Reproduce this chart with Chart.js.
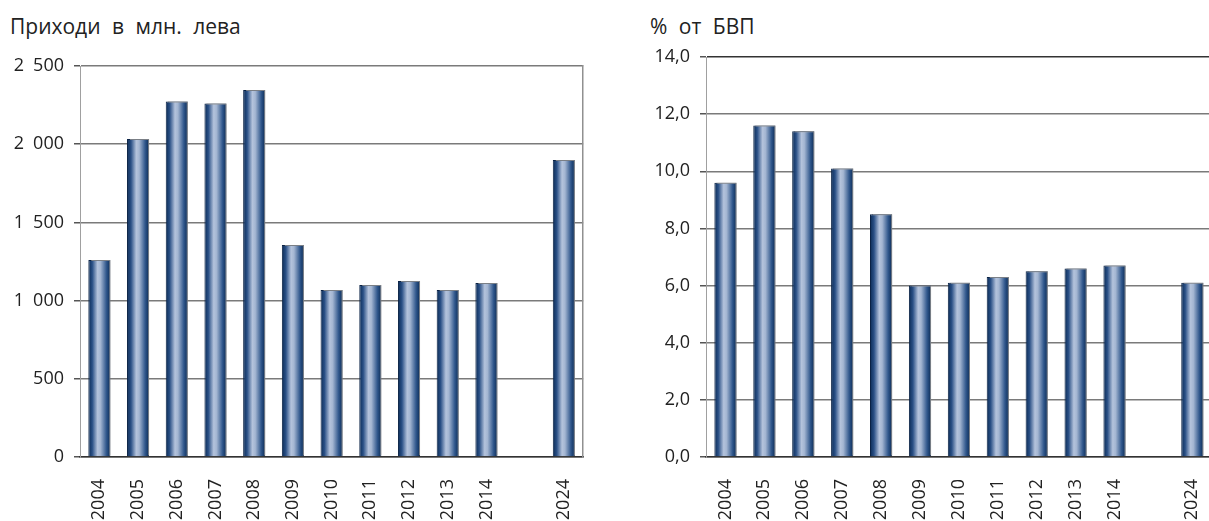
<!DOCTYPE html>
<html>
<head>
<meta charset="utf-8">
<script src="https://cdn.jsdelivr.net/npm/chart.js@4"></script>
<style>
  html, body { margin: 0; padding: 0; background: #fff; overflow: hidden; width: 1209px; height: 521px; }
  .title { position: absolute; top: 12px; font-family: "Open Sans", sans-serif; font-size: 21px; color: #222; word-spacing: 6px; }
  .box { position: absolute; top: 0; height: 521px; }
</style>
</head>
<body>
<div class="title" style="left: 10px;">Приходи в млн. лева</div>
<div class="title" style="left: 650px;">% от БВП</div>
<div class="box" style="left: 0; width: 600px;"><canvas id="leftChart"></canvas></div>
<div class="box" style="left: 600px; width: 628px;"><canvas id="rightChart"></canvas></div>
<script>
// Categories (blank slot between 2014 and 2024)
const years = ['2004', '2005', '2006', '2007', '2008', '2009', '2010', '2011', '2012', '2013', '2014', '', '2024'];

// Revenues, million leva
const revenues = [1260, 2033, 2273, 2260, 2347, 1355, 1068, 1100, 1125, 1068, 1112, null, 1899];

// Share of GDP, %
const gdpShare = [9.6, 11.6, 11.4, 10.1, 8.5, 6.0, 6.1, 6.3, 6.5, 6.6, 6.7, null, 6.1];

// Tick labels (en space as thousands separator, like the original)
const leftTicks = ['0', '500', '1\u2002000', '1\u2002500', '2\u2002000', '2\u2002500'];
const rightTicks = ['0,0', '2,0', '4,0', '6,0', '8,0', '10,0', '12,0', '14,0'];

const BAR_PCT = 0.57;
const FONT = '"Open Sans", sans-serif';

// Cylinder-like horizontal gradient for each bar
function barFill(context) {
    const chart = context.chart;
    const scale = chart.scales.x;
    if (!scale || context.dataIndex == null || !scale.ticks.length) return '#2a4f7f';
    const cx = scale.getPixelForValue(context.dataIndex);
    const w = (scale.width / scale.ticks.length) * BAR_PCT;
    const g = chart.ctx.createLinearGradient(cx - w / 2, 0, cx + w / 2, 0);
    g.addColorStop(0, '#0a2a54');
    g.addColorStop(0.18, '#2a5086');
    g.addColorStop(0.42, '#b4c3dc');
    g.addColorStop(0.55, '#a4b6d2');
    g.addColorStop(0.82, '#30578c');
    g.addColorStop(1, '#0a2a54');
    return g;
}

// Light gray shadow behind bars
const barShadow = {
    id: 'barShadow',
    beforeDatasetsDraw(chart) {
        const ctx = chart.ctx;
        ctx.save();
        ctx.shadowColor = 'rgba(150, 150, 150, 0.8)';
        ctx.shadowOffsetX = 2;
        ctx.shadowOffsetY = -1;
        ctx.shadowBlur = 0;
    },
    afterDatasetsDraw(chart) {
        chart.ctx.restore();
    }
};

function makeChart(id, values, tickLabels, maxVal, step, opts) {
    const ctx = document.getElementById(id).getContext('2d');
    return new Chart(ctx, {
        type: 'bar',
        data: {
            labels: years,
            datasets: [{
                data: values,
                backgroundColor: barFill,
                borderColor: '#0a2245',
                borderWidth: 1,
                borderSkipped: 'bottom',
                barPercentage: BAR_PCT,
                categoryPercentage: 1
            }]
        },
        options: {
            responsive: true,
            maintainAspectRatio: false,
            animation: false,
            layout: { padding: opts.padding },
            plugins: {
                legend: { display: false },
                tooltip: { enabled: false }
            },
            scales: {
                x: {
                    grid: { display: false },
                    border: { display: true, color: '#333', width: 1.5 },
                    ticks: {
                        minRotation: 90,
                        maxRotation: 90,
                        autoSkip: false,
                        padding: 14,
                        color: '#222',
                        font: { family: FONT, size: 18 }
                    },
                    afterFit: (scale) => { scale.height = 64; }
                },
                y: {
                    min: 0,
                    max: maxVal,
                    ticks: {
                        stepSize: step,
                        padding: 10,
                        color: '#222',
                        font: { family: FONT, size: 18 },
                        callback: (value, index) => tickLabels[index]
                    },
                    grid: {
                        color: (c) => (c.index === tickLabels.length - 1 ? opts.topColor : '#7a7a7a'),
                        lineWidth: 1.5,
                        tickLength: 6,
                        tickColor: '#555'
                    },
                    border: { display: true, color: '#a0a0a0', width: 1 },
                    afterFit: (scale) => { scale.width = opts.yWidth; }
                },
                y2: {
                    position: 'right',
                    display: opts.rightBorder,
                    min: 0,
                    max: maxVal,
                    ticks: { display: false },
                    grid: { drawOnChartArea: false, drawTicks: false },
                    border: { display: true, color: '#909090', width: 1.5 },
                    afterFit: (scale) => { scale.width = 0; }
                }
            }
        },
        plugins: [barShadow]
    });
}

makeChart('leftChart', revenues, leftTicks, 2500, 500, {
    padding: { left: 10, right: 15, top: 66, bottom: 0 },
    yWidth: 70,
    topColor: '#7a7a7a',
    rightBorder: true
});

makeChart('rightChart', gdpShare, rightTicks, 14, 2, {
    padding: { left: 0, right: 2, top: 57, bottom: 0 },
    yWidth: 106,
    topColor: '#333',
    rightBorder: false
});
</script>
</body>
</html>
